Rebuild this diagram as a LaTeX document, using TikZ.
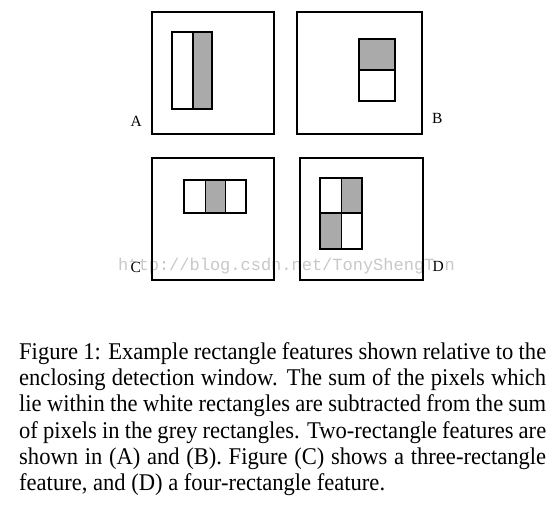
\documentclass[tikz,border=0pt]{standalone}
\usepackage{fontspec}
\setmainfont{Liberation Serif}
\newfontfamily\capfont[FakeStretch=0.94]{Liberation Serif}
\newfontfamily\wmfont{Liberation Mono}
\definecolor{featgrey}{RGB}{170,170,170}
\definecolor{wmgrey}{RGB}{200,200,200}
\begin{document}
\begin{tikzpicture}[x=1pt,y=-1pt,
  winbox/.style={draw=black,line width=1.3pt},
  whiterect/.style={draw=black,line width=1.2pt,fill=white},
  greyrect/.style={draw=black,line width=1.2pt,fill=featgrey},
  panellabel/.style={font=\fontsize{15.5}{15.5}\selectfont,inner sep=0.3pt,fill=white,anchor=base west},
  capline/.style={font=\capfont\fontsize{24}{26}\selectfont,inner sep=0pt,anchor=base west},
  watermark/.style={font=\wmfont\fontsize{17}{17}\selectfont,text=wmgrey,inner sep=0pt,anchor=base west}
]
\useasboundingbox (0,0) rectangle (559,505);
\fill[white] (0,0) rectangle (559,505);

% watermark
\node[watermark] (wm) at (118,270) {http://blog.csdn.net/TonyShengTan};

% panel A
\draw[winbox] (152,12) rectangle (274,134);
\draw[whiterect] (172,32) rectangle (193,109);
\draw[greyrect] (193,32) rectangle (212,109);
\node[panellabel] (la) at (130,126.5) {A};

% panel B
\draw[winbox] (297,12) rectangle (422,134);
\draw[greyrect] (359,39) rectangle (395,70);
\draw[whiterect] (359,70) rectangle (395,101);
\node[panellabel] (lb) at (431.5,123.3) {B};

% panel C
\draw[winbox] (152,158) rectangle (274,280);
\draw[whiterect] (184,180) rectangle (205.5,213);
\draw[greyrect] (205.5,180) rectangle (225.5,213);
\draw[whiterect] (225.5,180) rectangle (246,213);
\node[panellabel] (lc) at (130,272.5) {C};

% panel D
\draw[winbox] (300,158) rectangle (423,280);
\draw[whiterect] (320,178) rectangle (341.5,213);
\draw[greyrect] (341.5,178) rectangle (362,213);
\draw[greyrect] (320,213) rectangle (341.5,249);
\draw[whiterect] (341.5,213) rectangle (362,249);
\node[panellabel] (ld) at (432,271) {D};

% caption
\node[capline] (cap1) at (19,359.3) {\makebox[527pt][s]{Figure 1: Example rectangle features shown relative to the}};
\node[capline] (cap2) at (19,385.6) {\makebox[527pt][s]{enclosing detection window.  The sum of the pixels which}};
\node[capline] (cap3) at (19,411.9) {\makebox[527pt][s]{lie within the white rectangles are subtracted from the sum}};
\node[capline] (cap4) at (19,438.2) {\makebox[527pt][s]{of pixels in the grey rectangles. Two-rectangle features are}};
\node[capline] (cap5) at (19,464.5) {\makebox[527pt][s]{shown in (A) and (B). Figure (C) shows a three-rectangle}};
\node[capline] (cap6) at (19,490.8) {feature, and (D) a four-rectangle feature.};
\end{tikzpicture}
\end{document}
